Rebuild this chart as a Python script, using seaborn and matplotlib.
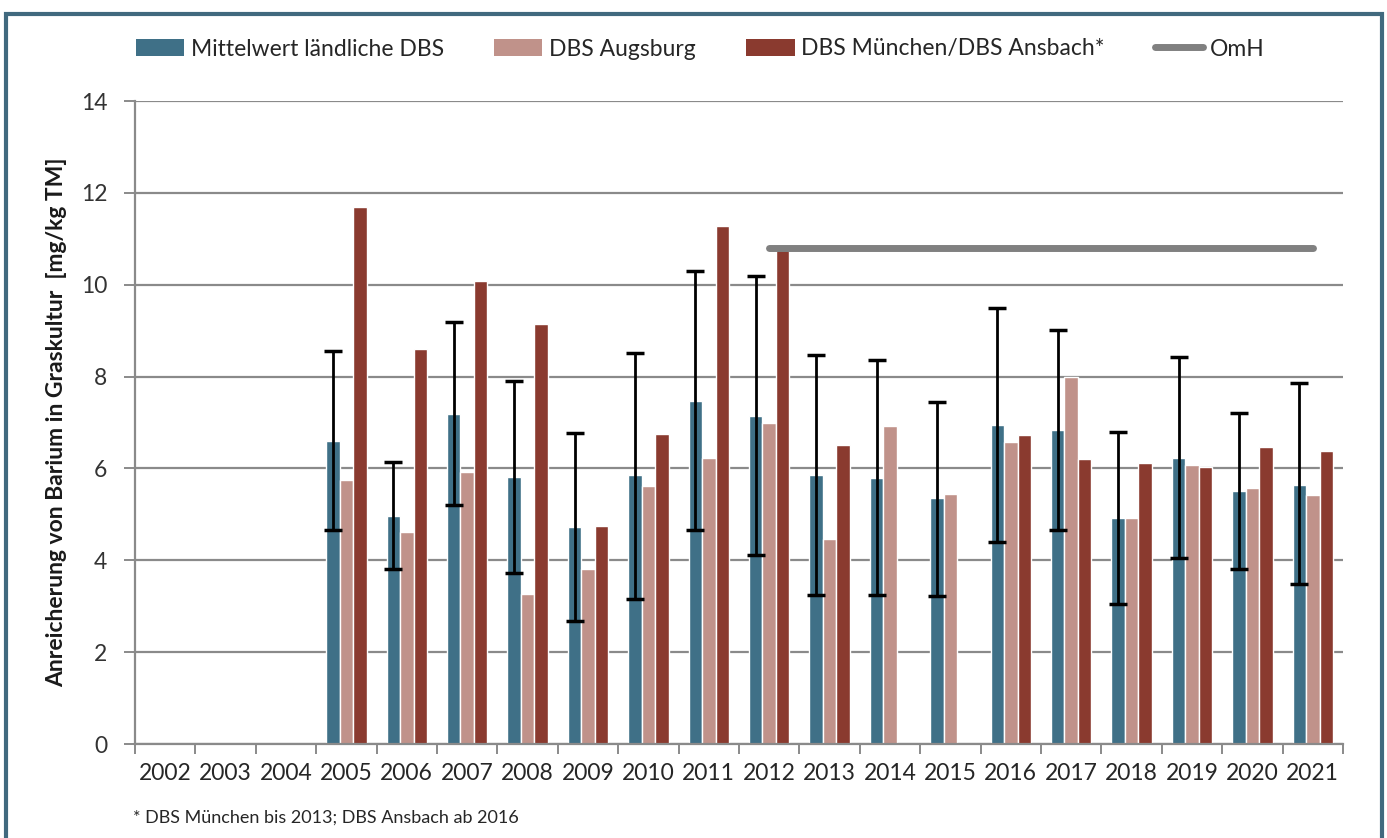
import numpy as np
import pandas as pd
import matplotlib
matplotlib.use("Agg")
import matplotlib.pyplot as plt
from matplotlib.patches import Patch, Rectangle
from matplotlib.lines import Line2D
import seaborn as sns

years = [str(y) for y in range(2002, 2022)]

# Mean of rural stations with min/max range (NaN = no measurement)
rural_mean = [np.nan, np.nan, np.nan, 6.6, 4.97, 7.18, 5.82, 4.72, 5.85, 7.47,
              7.15, 5.85, 5.8, 5.35, 6.95, 6.83, 4.92, 6.22, 5.5, 5.65]
rural_low = [np.nan, np.nan, np.nan, 4.65, 3.8, 5.2, 3.72, 2.68, 3.15, 4.65,
             4.12, 3.25, 3.25, 3.22, 4.4, 4.67, 3.05, 4.05, 3.8, 3.48]
rural_high = [np.nan, np.nan, np.nan, 8.55, 6.15, 9.18, 7.9, 6.78, 8.52, 10.3,
              10.2, 8.47, 8.37, 7.45, 9.5, 9.02, 6.8, 8.43, 7.2, 7.87]
augsburg = [np.nan, np.nan, np.nan, 5.75, 4.62, 5.92, 3.27, 3.8, 5.62, 6.23,
            7.0, 4.47, 6.92, 5.45, 6.57, 8.0, 4.92, 6.07, 5.57, 5.42]
muenchen_ansbach = [np.nan, np.nan, np.nan, 11.7, 8.6, 10.07, 9.15, 4.75, 6.75, 11.28,
                    10.75, 6.5, np.nan, np.nan, 6.72, 6.2, 6.12, 6.03, 6.47, 6.38]
omh_years = [str(y) for y in range(2012, 2022)]
omh_value = 10.8

series_names = ["Mittelwert ländliche DBS", "DBS Augsburg", "DBS München/DBS Ansbach*"]
colors = ["#3f7087", "#c0928a", "#8a3a2f"]

df = pd.DataFrame({
    "Jahr": years * 3,
    "Wert": rural_mean + augsburg + muenchen_ansbach,
    "Reihe": [series_names[0]] * 20 + [series_names[1]] * 20 + [series_names[2]] * 20,
})

sns.set_style("white")
plt.rcParams["font.family"] = ["Lato", "DejaVu Sans"]

fig = plt.figure(figsize=(13.87, 8.38), dpi=100)
ax = fig.add_axes([135 / 1387, 1 - 744 / 838, (1343 - 135) / 1387, (744 - 101) / 838])

sns.barplot(data=df, x="Jahr", y="Wert", hue="Reihe", order=years,
            hue_order=series_names, palette=colors, width=0.67, gap=0,
            errorbar=None, saturation=1, legend=False, ax=ax, zorder=2)

# Min/max whiskers centred on the rural mean bars
first_bar = ax.containers[0][0]
centre = first_bar.get_x() + first_bar.get_width() / 2
offset = centre - round(centre)
xs = np.arange(len(years)) + offset
mean = np.array(rural_mean)
lo = mean - np.array(rural_low)
hi = np.array(rural_high) - mean
ax.errorbar(xs, mean, yerr=[lo, hi], fmt="none", ecolor="black",
            elinewidth=2, capsize=6.5, capthick=2.5, zorder=4)

# Orientation value line
omh_x = [years.index(y) for y in omh_years]
sns.lineplot(x=omh_x, y=[omh_value] * len(omh_x), color="#808080", linewidth=5,
             solid_capstyle="round", ax=ax, zorder=5)

ax.set_ylim(0, 14)
ax.set_xlim(-0.5, len(years) - 0.5)
ax.set_yticks(np.arange(0, 15, 2))
ax.yaxis.grid(True, color="#8a8a8a", linewidth=1.6, zorder=0)
ax.set_axisbelow(True)
for s in ["top", "right"]:
    ax.spines[s].set_visible(False)
for s in ["left", "bottom"]:
    ax.spines[s].set_color("#8a8a8a")
    ax.spines[s].set_linewidth(1.6)

ax.set_xticks(range(len(years)))
ax.set_xticklabels(years)
ax.set_xticks(np.arange(-0.5, len(years), 1), minor=True)
ax.tick_params(axis="x", which="major", length=0, pad=14, labelsize=16.5, labelcolor="#262626")
ax.tick_params(axis="x", which="minor", length=7, width=1.4, color="#8a8a8a", direction="out",
               bottom=True)
ax.tick_params(axis="y", length=8, width=1.4, color="#8a8a8a", direction="out",
               labelsize=16.5, labelcolor="#333333", pad=12, left=True)
ax.set_xlabel("")
ax.set_ylabel("Anreicherung von Barium in Graskultur  [mg/kg TM]", fontsize=16.5,
              fontweight="bold", color="#1a1a1a", labelpad=10)

handles = [Patch(facecolor=c, edgecolor="none") for c in colors]
handles.append(Line2D([0], [0], color="#808080", linewidth=5, solid_capstyle="round"))
fig.legend(handles, series_names + ["OmH"], loc="center", ncol=4,
           bbox_to_anchor=(0.505, 1 - 49 / 838), frameon=False, fontsize=16.5,
           handlelength=2.1, handleheight=0.75, handletextpad=0.3, columnspacing=2.2)

fig.text(133 / 1387, 1 - 818 / 838, "* DBS München bis 2013; DBS Ansbach ab 2016",
         fontsize=13, color="#262626", va="center", ha="left")

# Outer frame
fig.patches.append(Rectangle((6 / 1387, -0.05), (1382 - 6) / 1387, 0.05 + 1 - 14 / 838,
                             transform=fig.transFigure, fill=False,
                             edgecolor="#41697e", linewidth=3))

fig.savefig("out.png", dpi=100, facecolor="white")
